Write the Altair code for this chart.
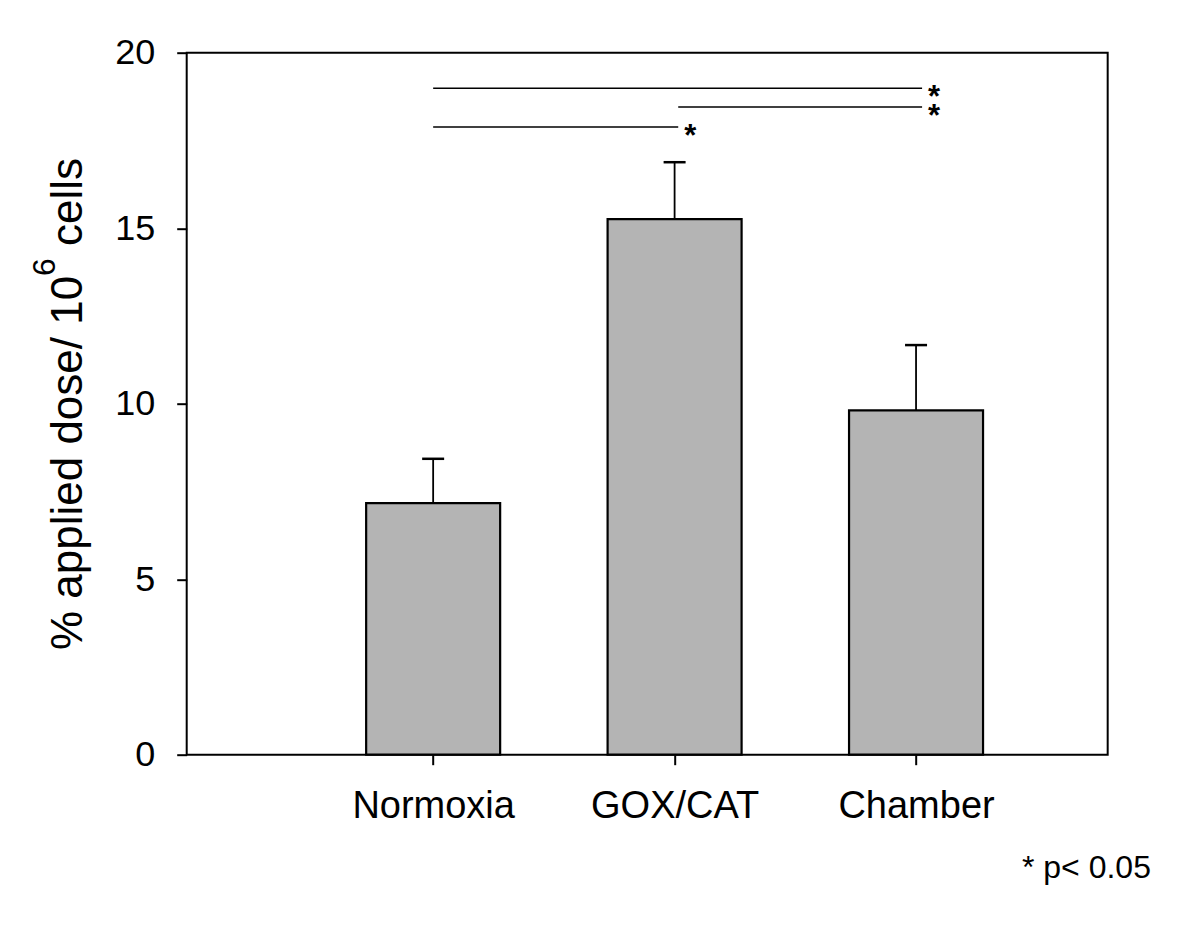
import json
import altair as alt
import pandas as pd

# ---- data ----
categories = ["Normoxia", "GOX/CAT", "Chamber"]
positions = [1, 2, 3]
means = [7.17, 15.26, 9.81]
upper = [8.43, 16.88, 11.67]

sig_start = [1, 2.015, 1]
sig_end = [3.025, 3.025, 2.015]
sig_y = [18.99, 18.45, 17.88]
sig_label = ["*", "*", "*"]

y_ticks = [0, 5, 10, 15, 20]
x_domain = [0, 3.773]
y_domain = [0, 20]

title_main = "% applied dose/ 10"
title_sup = "6"
title_tail = "cells"
footnote = "* p< 0.05"

FONT = "Liberation Sans"

bars_df = pd.DataFrame({"pos": positions, "category": categories,
                        "mean": means, "upper": upper})
sig_df = pd.DataFrame({"x1": sig_start, "x2": sig_end, "y": sig_y, "label": sig_label})

label_expr = json.dumps(categories) + "[datum.value - 1]"

x_scale = alt.Scale(domain=x_domain, nice=False, zero=False)
y_scale = alt.Scale(domain=y_domain, nice=False)

x_axis = alt.Axis(values=positions, labelExpr=label_expr, title=None, grid=False,
                  domain=False, tickColor="black", tickWidth=2, tickSize=10,
                  labelFontSize=38, labelFont=FONT, labelColor="black",
                  labelPadding=23, labelFlush=False)
y_axis = alt.Axis(values=y_ticks, title=None, grid=False, domain=False,
                  tickColor="black", tickWidth=2, tickSize=10,
                  labelFontSize=36, labelFont=FONT, labelColor="black",
                  labelPadding=22)

base = alt.Chart(bars_df)

bars = base.mark_bar(size=134, color="#b4b4b4", stroke="black", strokeWidth=2.2).encode(
    x=alt.X("pos:Q", scale=x_scale, axis=x_axis),
    y=alt.Y("mean:Q", scale=y_scale, axis=y_axis),
)

stems = base.mark_rule(color="black", strokeWidth=1.8).encode(
    x=alt.X("pos:Q", scale=x_scale, axis=x_axis),
    y=alt.Y("mean:Q", scale=y_scale, axis=y_axis),
    y2="upper:Q",
)

caps = base.mark_tick(orient="horizontal", size=22, thickness=2.5, color="black", opacity=1).encode(
    x=alt.X("pos:Q", scale=x_scale, axis=x_axis),
    y=alt.Y("upper:Q", scale=y_scale, axis=y_axis),
)

sig_lines = alt.Chart(sig_df).mark_rule(color="black", strokeWidth=1.5).encode(
    x=alt.X("x1:Q", scale=x_scale, axis=x_axis),
    x2="x2:Q",
    y=alt.Y("y:Q", scale=y_scale, axis=y_axis),
)

stars = alt.Chart(sig_df).mark_text(align="center", baseline="alphabetic", fontSize=31,
                                    fontWeight="bold", font=FONT, color="black",
                                    dx=12, dy=19).encode(
    x=alt.X("x2:Q", scale=x_scale, axis=x_axis),
    y=alt.Y("y:Q", scale=y_scale, axis=y_axis),
    text="label:N",
)

t1 = alt.Chart(pd.DataFrame({"t": [title_main]})).mark_text(
    angle=270, align="left", baseline="alphabetic", fontSize=44, font=FONT, color="black"
).encode(x=alt.value(-104.7), y=alt.value(597.3), text="t:N")

t2 = alt.Chart(pd.DataFrame({"t": [title_sup]})).mark_text(
    angle=270, align="left", baseline="alphabetic", fontSize=32, font=FONT, color="black"
).encode(x=alt.value(-131.7), y=alt.value(223.3), text="t:N")

t3 = alt.Chart(pd.DataFrame({"t": [title_tail]})).mark_text(
    angle=270, align="left", baseline="alphabetic", fontSize=44, font=FONT, color="black"
).encode(x=alt.value(-104.7), y=alt.value(193.3), text="t:N")

note = alt.Chart(pd.DataFrame({"t": [footnote]})).mark_text(
    align="left", baseline="alphabetic", fontSize=32, font=FONT, color="black"
).encode(x=alt.value(835.3), y=alt.value(825.3), text="t:N")

chart = alt.layer(bars, stems, caps, sig_lines, stars, t1, t2, t3, note).properties(
    width=921,
    height=702,
    autosize=alt.AutoSizeParams(type="none"),
    padding={"left": 178.7, "top": 44.7, "right": 80, "bottom": 170},
    background="white",
).configure_view(stroke="black", strokeWidth=2)

chart.save("out.html", embed_options={"renderer": "svg", "actions": False})
